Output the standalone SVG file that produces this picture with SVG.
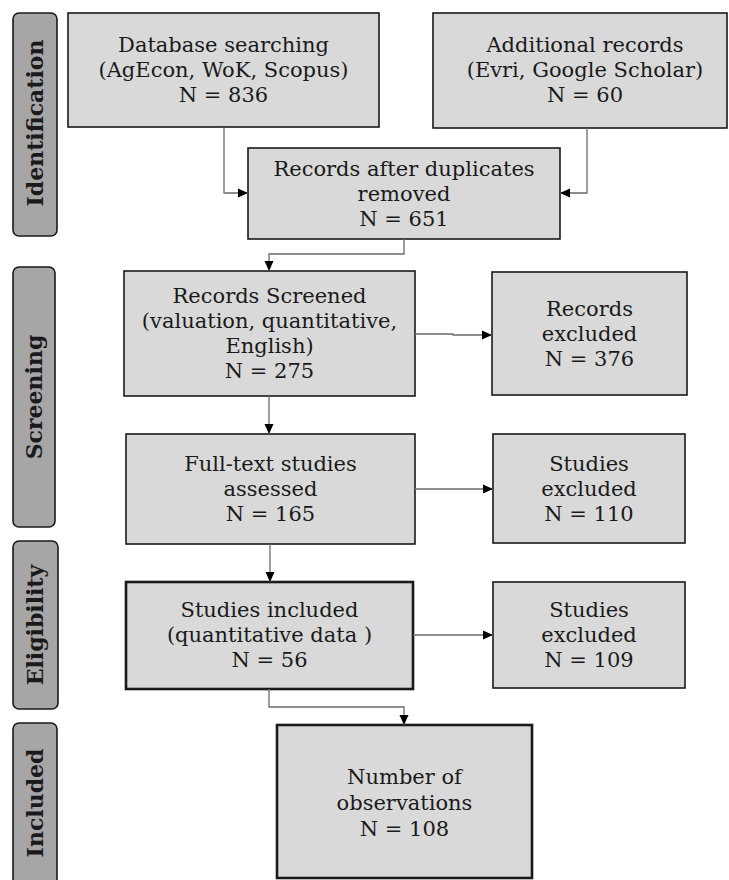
<svg xmlns="http://www.w3.org/2000/svg" width="729" height="880" viewBox="0 0 729 880">
<defs>
<marker id="ah" markerUnits="userSpaceOnUse" markerWidth="10" markerHeight="10" viewBox="0 0 10 10" refX="10" refY="5" orient="auto">
<path d="M0,0.5 L10,5 L0,9.5 Z" fill="#000"/>
</marker>
<style>
.box{fill:#d9d9d9;stroke:#1a1a1a;stroke-width:1.6}
.thick{stroke-width:2.6}
.lab{fill:#a6a6a6;stroke:#1a1a1a;stroke-width:1.6}
.t{font-family:"DejaVu Serif","Liberation Serif",serif;font-size:21px;fill:#1a1a1a;text-anchor:middle}
.lt{font-family:"DejaVu Serif","Liberation Serif",serif;font-size:22px;font-weight:bold;fill:#1a1a1a;text-anchor:middle}
.c{fill:none;stroke:#6b6b6b;stroke-width:1.3;marker-end:url(#ah)}
</style>
</defs>
<rect width="729" height="880" fill="#fff"/>

<g id="label-identification">
<rect class="lab" x="13" y="13" width="44" height="223" rx="6"/>
<text class="lt" transform="translate(43,123) rotate(-90)">Identification</text>
</g>
<g id="label-screening">
<rect class="lab" x="13" y="267" width="42" height="260" rx="6"/>
<text class="lt" transform="translate(42,397) rotate(-90)">Screening</text>
</g>
<g id="label-eligibility">
<rect class="lab" x="13" y="541" width="45" height="168" rx="6"/>
<text class="lt" transform="translate(43,625) rotate(-90)">Eligibility</text>
</g>
<g id="label-included">
<rect class="lab" x="13" y="723" width="44" height="175" rx="6"/>
<text class="lt" transform="translate(43,803) rotate(-90)">Included</text>
</g>

<g id="database">
<rect class="box" x="68" y="13" width="311" height="114"/>
<text class="t" x="223.5" y="52">Database searching</text>
<text class="t" x="223.5" y="77">(AgEcon, WoK, Scopus)</text>
<text class="t" x="223.5" y="102">N = 836</text>
</g>
<g id="additional">
<rect class="box" x="433" y="13" width="294" height="115"/>
<text class="t" x="585" y="52">Additional records</text>
<text class="t" x="585" y="77">(Evri, Google Scholar)</text>
<text class="t" x="585" y="102">N = 60</text>
</g>
<g id="duplicates">
<rect class="box" x="248" y="148" width="312" height="91"/>
<text class="t" x="404" y="176">Records after duplicates</text>
<text class="t" x="404" y="201">removed</text>
<text class="t" x="404" y="226">N = 651</text>
</g>
<g id="screened">
<rect class="box" x="124" y="271" width="291" height="125"/>
<text class="t" x="269.5" y="303">Records Screened</text>
<text class="t" x="269.5" y="328">(valuation, quantitative,</text>
<text class="t" x="269.5" y="353">English)</text>
<text class="t" x="269.5" y="378">N = 275</text>
</g>
<g id="records-excluded">
<rect class="box" x="492" y="272" width="195" height="123"/>
<text class="t" x="589.5" y="316">Records</text>
<text class="t" x="589.5" y="341">excluded</text>
<text class="t" x="589.5" y="366">N = 376</text>
</g>
<g id="fulltext">
<rect class="box" x="126" y="434" width="289" height="110"/>
<text class="t" x="270.5" y="471">Full-text studies</text>
<text class="t" x="270.5" y="496">assessed</text>
<text class="t" x="270.5" y="521">N = 165</text>
</g>
<g id="studies-excluded-1">
<rect class="box" x="493" y="434" width="192" height="109"/>
<text class="t" x="589" y="471">Studies</text>
<text class="t" x="589" y="496">excluded</text>
<text class="t" x="589" y="521">N = 110</text>
</g>
<g id="included">
<rect class="box thick" x="126" y="582" width="287" height="107"/>
<text class="t" x="269.5" y="617">Studies included</text>
<text class="t" x="269.5" y="642">(quantitative data )</text>
<text class="t" x="269.5" y="667">N = 56</text>
</g>
<g id="studies-excluded-2">
<rect class="box" x="493" y="582" width="192" height="106"/>
<text class="t" x="589" y="617">Studies</text>
<text class="t" x="589" y="642">excluded</text>
<text class="t" x="589" y="667">N = 109</text>
</g>
<g id="observations">
<rect class="box thick" x="277" y="725" width="255" height="153"/>
<text class="t" x="404.5" y="784">Number of</text>
<text class="t" x="404.5" y="810">observations</text>
<text class="t" x="404.5" y="836">N = 108</text>
</g>

<g id="connectors">
<path class="c" d="M224,127 V193 H248"/>
<path class="c" d="M587,128 V193 H560"/>
<path class="c" d="M404,239 V254 H269 V271"/>
<path class="c" d="M415,334 H453 V335 H492"/>
<path class="c" d="M269,396 V434"/>
<path class="c" d="M415,489 H493"/>
<path class="c" d="M270,544 V582"/>
<path class="c" d="M413,635 H493"/>
<path class="c" d="M269,689 V707 H404 V725"/>
</g>
</svg>
